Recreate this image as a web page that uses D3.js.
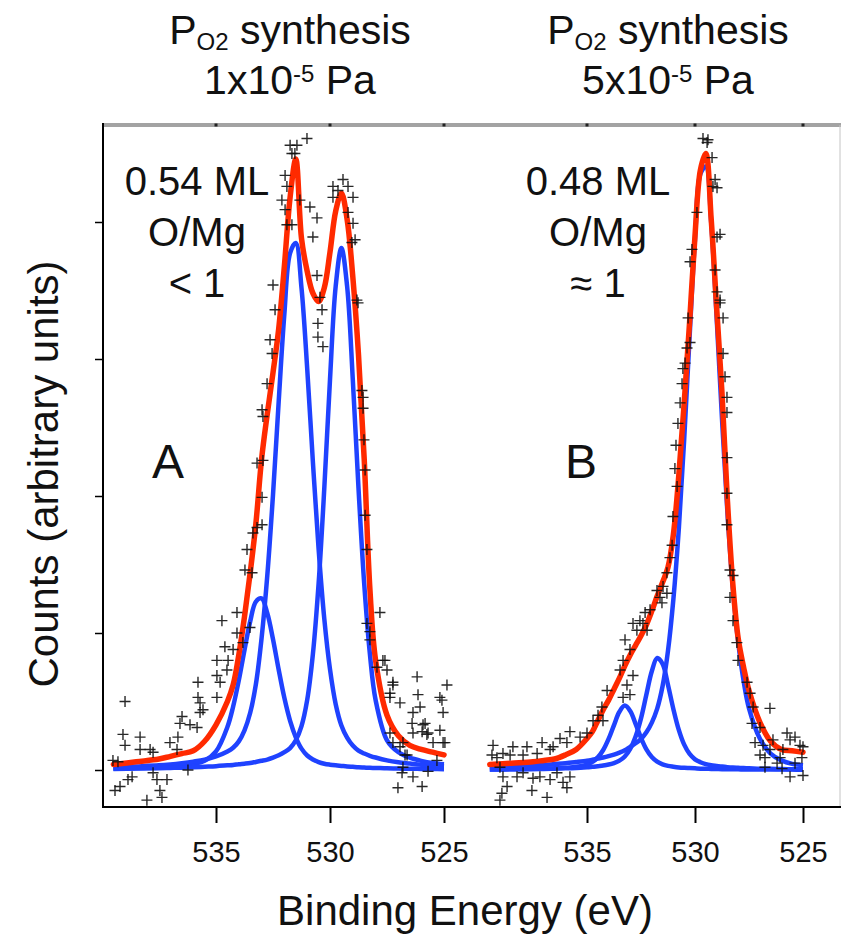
<!DOCTYPE html>
<html>
<head>
<meta charset="utf-8">
<script src="https://cdn.jsdelivr.net/npm/d3@7"></script>
<style>
  body { margin: 0; background: #fff; }
  svg { display: block; font-family: "Liberation Sans", Arial, sans-serif; }
</style>
</head>
<body>
<div class="chart"></div>
<script>
// ---- data (binding energy in eV, counts in arbitrary units) ----
const xTicks = [535, 530, 525];
const yTicks = [0, 100, 200, 300, 400];

const energyA = [539.5, 538.5, 537.5, 537, 536.5, 536, 535.5, 535, 534.5, 534.25, 534, 533.75, 533.5, 533.25, 533,
  532.75, 532.5, 532.25, 532, 531.75, 531.5, 531.25, 531, 530.75, 530.5, 530.25, 530, 529.75, 529.5, 529.25, 529,
  528.75, 528.5, 528.25, 528, 527.5, 527, 526.5, 526, 525.5, 525];
const fitA1 = [1.9, 2.6, 3.4, 4.1, 5.0, 6.1, 7.5, 9.9, 13.5, 16.2, 20.9, 29.0, 41.8, 62.7, 96.4, 142.0, 200.9, 269.0,
  333.2, 377.3, 384.7, 351.8, 293.0, 224.8, 161.4, 110.3, 73.5, 48.0, 32.5, 23.6, 17.8, 14.1, 12.0, 10.4, 9.1, 7.0,
  5.6, 4.7, 3.8, 3.3, 2.8];
const fitA2 = [0.8, 1.1, 1.3, 1.5, 1.7, 2.0, 2.4, 2.8, 3.4, 3.7, 4.2, 4.6, 5.1, 5.9, 6.7, 7.6, 9.0, 10.7, 13.0, 16.0,
  21.7, 32.0, 51.1, 84.6, 136.0, 205.7, 285.0, 353.2, 381.0, 353.2, 285.0, 205.7, 136.0, 84.6, 51.1, 21.7, 13.0, 9.0,
  6.7, 5.1, 4.2];
const fitA3 = [1.0, 1.3, 2.0, 2.5, 3.2, 4.4, 6.8, 13.6, 31.4, 46.2, 65.4, 87.6, 108.5, 122.9, 125.2, 114.5, 95.4, 73.2,
  52.5, 35.9, 23.9, 15.6, 10.6, 7.7, 5.8, 4.6, 3.9, 3.4, 3.0, 2.6, 2.3, 2.0, 1.8, 1.6, 1.5, 1.2, 1.1, 0.9, 0.8, 0.7, 0.6];
const envelopeA = [4, 6, 8, 10, 12, 14, 21, 33, 50, 62, 84, 112, 144, 180, 227, 260, 290, 322, 368, 418, 446, 388, 364,
  348, 342, 352, 378, 408, 421, 402, 360, 303, 227, 132, 80, 40, 25, 18, 15, 13, 11];

const energyB = [539.5, 538.5, 537.5, 537, 536.5, 536, 535.5, 535, 534.75, 534.5, 534.25, 534, 533.75, 533.5, 533.25,
  533, 532.75, 532.5, 532.25, 532, 531.75, 531.5, 531.25, 531, 530.75, 530.5, 530.25, 530, 529.75, 529.5, 529.25, 529,
  528.75, 528.5, 528.25, 528, 527.75, 527.5, 527, 526.5, 526, 525.5, 525];
const fitB1 = [2.1, 2.6, 3.3, 3.7, 4.3, 4.9, 5.8, 6.8, 7.5, 8.3, 9.1, 10.1, 11.3, 12.7, 14.4, 16.9, 19.5, 22.6, 27.5,
  34.6, 44.8, 61.3, 87.0, 124.8, 175.8, 241.5, 316.1, 387.6, 435.1, 440.4, 399.6, 330.8, 256.2, 188.3, 133.2, 93.2,
  65, 45, 23, 12, 7, 4.5, 3.5];
const fitB2 = [0.4, 0.5, 0.7, 0.8, 1.0, 1.2, 1.5, 2.0, 2.3, 2.8, 3.3, 4.0, 5.1, 6.8, 9.9, 15.4, 24.4, 37.7, 55.1, 72.1,
  81.7, 77.4, 62.1, 44.4, 29.3, 18.5, 11.7, 7.8, 5.7, 4.3, 3.5, 3.0, 2.5, 2.1, 1.8, 1.6, 1.4, 1.3, 1.0, 0.9, 0.7, 0.6, 0.5];
const fitB3 = [0.3, 0.5, 0.7, 0.9, 1.2, 1.6, 2.3, 4.0, 5.9, 9.2, 14.6, 22.7, 32.8, 42.5, 47.0, 43.1, 33.7, 23.5, 15.1,
  9.5, 6.1, 4.1, 3.0, 2.4, 1.9, 1.6, 1.4, 1.2, 1.0, 0.9, 0.8, 0.7, 0.6, 0.6, 0.5, 0.5, 0.4, 0.4, 0.4, 0.3, 0.3, 0.3, 0.2];
const envelopeB = [4, 5, 6, 7, 8, 11, 15, 23, 28, 36, 44, 51, 59, 67, 76, 84, 91, 98, 106, 116, 127, 137, 148, 172, 215,
  268, 327, 390, 438, 450, 402, 338, 275, 197, 136, 96, 75, 58, 35, 21, 15, 14, 13];

const pointsA = [
  [531.01,461],[531.75,456],[531.45,456],[531.67,450],[531.54,450],[531.97,434],[531.89,426],[532.11,416],[531.97,409],
  [531.32,416],[530.88,411],[530.57,403],[530.75,389],[531.67,398],[531.89,398],
  [532.50,354],[532.41,336],[532.63,314],[532.54,304],[532.76,282],[532.94,258],[532.98,263],
  [530.57,361],[530.44,345],[530.53,326],[530.35,336],[530.53,316],[530.31,309],
  [529.87,426],[529.43,431],[529.21,426],[528.99,418],[529.87,418],[529.65,423],
  [529.21,407],[528.99,399],[528.90,387],[529.04,385],[528.82,343],[528.77,341],
  [528.60,277],[528.55,272],[528.55,264],[528.51,241],
  [533.20,224],[532.94,226],[532.98,199],[533.73,146],[533.42,144],[533.64,161],[533.38,173],[533.20,177],[532.98,179],
  [528.46,219],[528.46,186],[528.38,161],[528.38,107],[528.25,101],[528.25,95],[527.81,115],[527.68,80],[527.94,75],
  [527.24,64],[527.37,56],[526.93,49],[526.36,42],[526.40,34],[526.36,27],[526.18,68],[526.14,55],[526.05,46],
  [525.83,34],[525.96,28],[525.70,27],[525.48,20],[527.37,27],[527.24,20],[526.80,20],[526.62,11],[525.31,7],
  [525.18,29],[525.04,42],[524.87,62],[525.18,53],[525.04,20],[527.02,-13],[525.96,-12],[526.84,-2],[526.80,2],
  [525.70,-1],[526.36,-5],[527.59,80],[527.50,73],[527.24,62],[527.37,53],[526.93,17],[525.09,51],[524.96,20],
  [525.75,26],[525.92,33],[526.71,11],
  [538.99,50],[539.08,26],[538.33,24],[538.99,18],[538.33,15],[537.89,15],[537.76,13],[539.43,-15],[539.21,-12],
  [538.86,-7],[538.68,-5],[539.52,7],[539.30,6],[538.03,-22],[537.37,-20],[537.46,-15],[537.15,-7],[537.59,-7],
  [537.76,-2],[537.02,20],[536.71,15],[536.67,24],[536.58,34],[536.49,39],[536.14,33],[535.83,31],[535.70,42],
  [535.57,44],[535.70,49],[535.79,64],[535.79,53],[536.23,0],[534.96,53],[534.82,64],[534.96,69],[534.52,73],
  [534.47,80],[534.61,90],[534.74,109],[534.25,88],[534.96,80],[534.08,100],[534.08,115],[533.51,104],[533.82,93]
];

const pointsB = [
  [529.63,461],[529.44,458],[529.40,460],[529.21,447],[529.07,431],[528.98,425],[529.17,426],[529.91,407],[528.84,391],
  [528.98,389],[530.14,380],[530.23,371],[529.07,365],[528.98,349],[528.84,343],[528.84,341],[530.32,330],
  [528.70,330],[530.23,312],[530.37,308],[530.46,297],[530.56,293],[530.60,282],[530.69,268],[530.79,253],
  [528.70,304],[528.61,287],[528.52,272],[528.52,261],[530.88,237],[530.93,220],
  [528.52,228],[528.52,202],[528.52,179],[528.38,146],[528.24,142],[528.38,126],[528.24,109],[528.06,93],[528.01,80],
  [527.59,64],[527.45,56],[527.31,46],[526.53,45],
  [527.36,34],[527.22,20],[526.99,31],[526.85,18],[526.99,11],[526.76,9],[526.53,15],[526.39,22],[526.06,9],
  [525.93,15],[525.74,27],[525.60,22],[525.37,24],[525.14,18],[525.00,17],[525.05,9],[525.37,5],[525.00,-4],
  [525.97,1],[526.76,2],[526.20,5],[525.60,-5],
  [530.83,207],[531.02,185],[531.06,164],[531.16,155],[531.30,144],[531.48,134],[531.30,129],[531.62,126],[531.76,131],
  [531.53,122],[532.08,117],[532.31,115],[532.41,107],[532.22,102],[532.55,109],[532.87,107],[532.69,102],[533.24,95],
  [533.01,88],[533.33,80],[533.47,73],[532.87,69],[533.15,62],[533.01,55],[533.33,53],[534.07,58],[534.31,46],
  [534.49,40],[534.72,36],[534.26,36],[535.00,27],[535.32,24],[535.79,28],[535.93,20],[536.25,23],[536.57,17],
  [536.71,15],[537.08,20],[537.31,12],[537.78,17],[537.96,11],[538.43,17],[538.56,11],[538.89,12],[539.35,18],
  [539.17,9],[539.40,11],[539.03,2],[538.89,-5],[538.70,-12],[538.94,-17],[539.03,-22],[538.24,-5],[537.96,-2],
  [537.55,-15],[537.50,-6],[537.18,-5],[536.85,-20],[536.71,-7],[536.39,-2],[536.11,-9],[535.93,-13],[535.79,-5]
];

const panelInfo = [
  {name: "A", pressure: "1x10", coverage: "0.54 ML", ratio: "< 1"},
  {name: "B", pressure: "5x10", coverage: "0.48 ML", ratio: "\u2248 1"}
];

// ---- layout ----
const width = 841, height = 945;
const frame = {left: 103, right: 840, top: 125, bottom: 807};
const red = "#ff2a00", blue = "#1f42ff";

const svg = d3.select(".chart")
    .append("svg")
    .attr("width", width)
    .attr("height", height)
    .attr("viewBox", [0, 0, width, height]);

const y = d3.scaleLinear()
    .domain([0, 400])
    .range([770, 222]);

const panels = [
  {info: panelInfo[0], x: d3.scaleLinear().domain([535, 525]).range([216, 444]),
   energy: energyA, fits: [fitA3, fitA1, fitA2], envelope: envelopeA, points: pointsA,
   titleX: 290, labelX: 197, letterX: 168},
  {info: panelInfo[1], x: d3.scaleLinear().domain([535, 525]).range([587, 803]),
   energy: energyB, fits: [fitB3, fitB2, fitB1], envelope: envelopeB, points: pointsB,
   titleX: 668, labelX: 598, letterX: 581}
];

// frame: grey top and right edges, black left and bottom axes
svg.append("line")
    .attr("x1", frame.left).attr("x2", width)
    .attr("y1", frame.top).attr("y2", frame.top)
    .attr("stroke", "#a3a3a3").attr("stroke-width", 4);
svg.append("line")
    .attr("x1", frame.right).attr("x2", frame.right)
    .attr("y1", frame.top).attr("y2", frame.bottom)
    .attr("stroke", "#c4c4c4").attr("stroke-width", 1);

// y axis (no labels, outward ticks)
svg.append("g")
    .attr("transform", `translate(${frame.left},0)`)
    .call(d3.axisLeft(y).tickValues(yTicks).tickSize(8).tickFormat(""))
    .call(g => g.select(".domain").remove())
    .call(g => g.selectAll(".tick line").attr("stroke", "#000").attr("stroke-width", 1.5));
svg.append("line")
    .attr("x1", frame.left).attr("x2", frame.left)
    .attr("y1", frame.top - 2).attr("y2", frame.bottom + 1)
    .attr("stroke", "#000").attr("stroke-width", 2);

svg.append("line")
    .attr("x1", frame.left - 1).attr("x2", width)
    .attr("y1", frame.bottom).attr("y2", frame.bottom)
    .attr("stroke", "#000").attr("stroke-width", 2);

panels.forEach(p => {
  const x = p.x;

  // bottom axis with labels
  svg.append("g")
      .attr("transform", `translate(0,${frame.bottom})`)
      .call(d3.axisBottom(x).tickValues(xTicks).tickSize(16).tickPadding(18).tickFormat(d3.format("d")))
      .call(g => g.select(".domain").remove())
      .call(g => g.selectAll(".tick line").attr("stroke", "#000").attr("stroke-width", 2))
      .call(g => g.selectAll(".tick text")
          .attr("font-size", 29)
          .attr("font-family", "Liberation Sans, Arial, sans-serif")
          .attr("fill", "#111"));

  // small dark marks on the grey top edge
  svg.append("g")
      .selectAll("rect")
      .data(xTicks)
      .join("rect")
        .attr("x", d => x(d) - 1.5)
        .attr("y", frame.top - 1.5)
        .attr("width", 3)
        .attr("height", 3)
        .attr("fill", "#222");

  const line = d3.line()
      .curve(d3.curveCatmullRom.alpha(0.5))
      .x((d, i) => x(p.energy[i]))
      .y(d => y(d));

  svg.append("g")
      .attr("fill", "none")
      .attr("stroke", blue)
      .attr("stroke-width", 4.5)
      .attr("stroke-linejoin", "round")
    .selectAll("path")
    .data(p.fits)
    .join("path")
      .attr("d", line);

  svg.append("path")
      .datum(p.envelope)
      .attr("fill", "none")
      .attr("stroke", red)
      .attr("stroke-width", 5.5)
      .attr("stroke-linejoin", "round")
      .attr("stroke-linecap", "round")
      .attr("d", line);

  // measured counts as "+" markers
  svg.append("g")
      .attr("stroke", "#111")
      .attr("stroke-width", 1.4)
      .attr("stroke-opacity", 0.9)
      .attr("fill", "none")
    .selectAll("path")
    .data(p.points)
    .join("path")
      .attr("transform", d => `translate(${x(d[0])},${y(d[1])})`)
      .attr("d", "M-5.5,0H5.5M0,-5.5V5.5");

  // titles above the frame
  const t1 = svg.append("text")
      .attr("x", p.titleX).attr("y", 44)
      .attr("text-anchor", "middle")
      .attr("font-size", 41)
      .attr("fill", "#111");
  t1.append("tspan").text("P");
  t1.append("tspan").attr("font-size", 24).attr("dy", 6).text("O2");
  t1.append("tspan").attr("dy", -6).text(" synthesis");

  const t2 = svg.append("text")
      .attr("x", p.titleX).attr("y", 94)
      .attr("text-anchor", "middle")
      .attr("font-size", 41)
      .attr("fill", "#111");
  t2.append("tspan").text(p.info.pressure);
  t2.append("tspan").attr("font-size", 24).attr("dy", -12).text("-5");
  t2.append("tspan").attr("dy", 12).text(" Pa");

  // labels inside the panel
  svg.append("g")
      .attr("text-anchor", "middle")
      .attr("font-size", 40)
      .attr("fill", "#111")
    .selectAll("text")
    .data([p.info.coverage, "O/Mg", p.info.ratio])
    .join("text")
      .attr("x", p.labelX)
      .attr("y", (d, i) => 195 + i * 51)
      .text(d => d);

  svg.append("text")
      .attr("x", p.letterX).attr("y", 478)
      .attr("text-anchor", "middle")
      .attr("font-size", 48)
      .attr("fill", "#111")
      .text(p.info.name);
});

// axis titles
svg.append("text")
    .attr("x", 465).attr("y", 925)
    .attr("text-anchor", "middle")
    .attr("font-size", 42)
    .attr("fill", "#111")
    .text("Binding Energy (eV)");

svg.append("text")
    .attr("transform", "translate(58,474) rotate(-90)")
    .attr("text-anchor", "middle")
    .attr("font-size", 42)
    .attr("fill", "#111")
    .text("Counts (arbitrary units)");
</script>
</body>
</html>
